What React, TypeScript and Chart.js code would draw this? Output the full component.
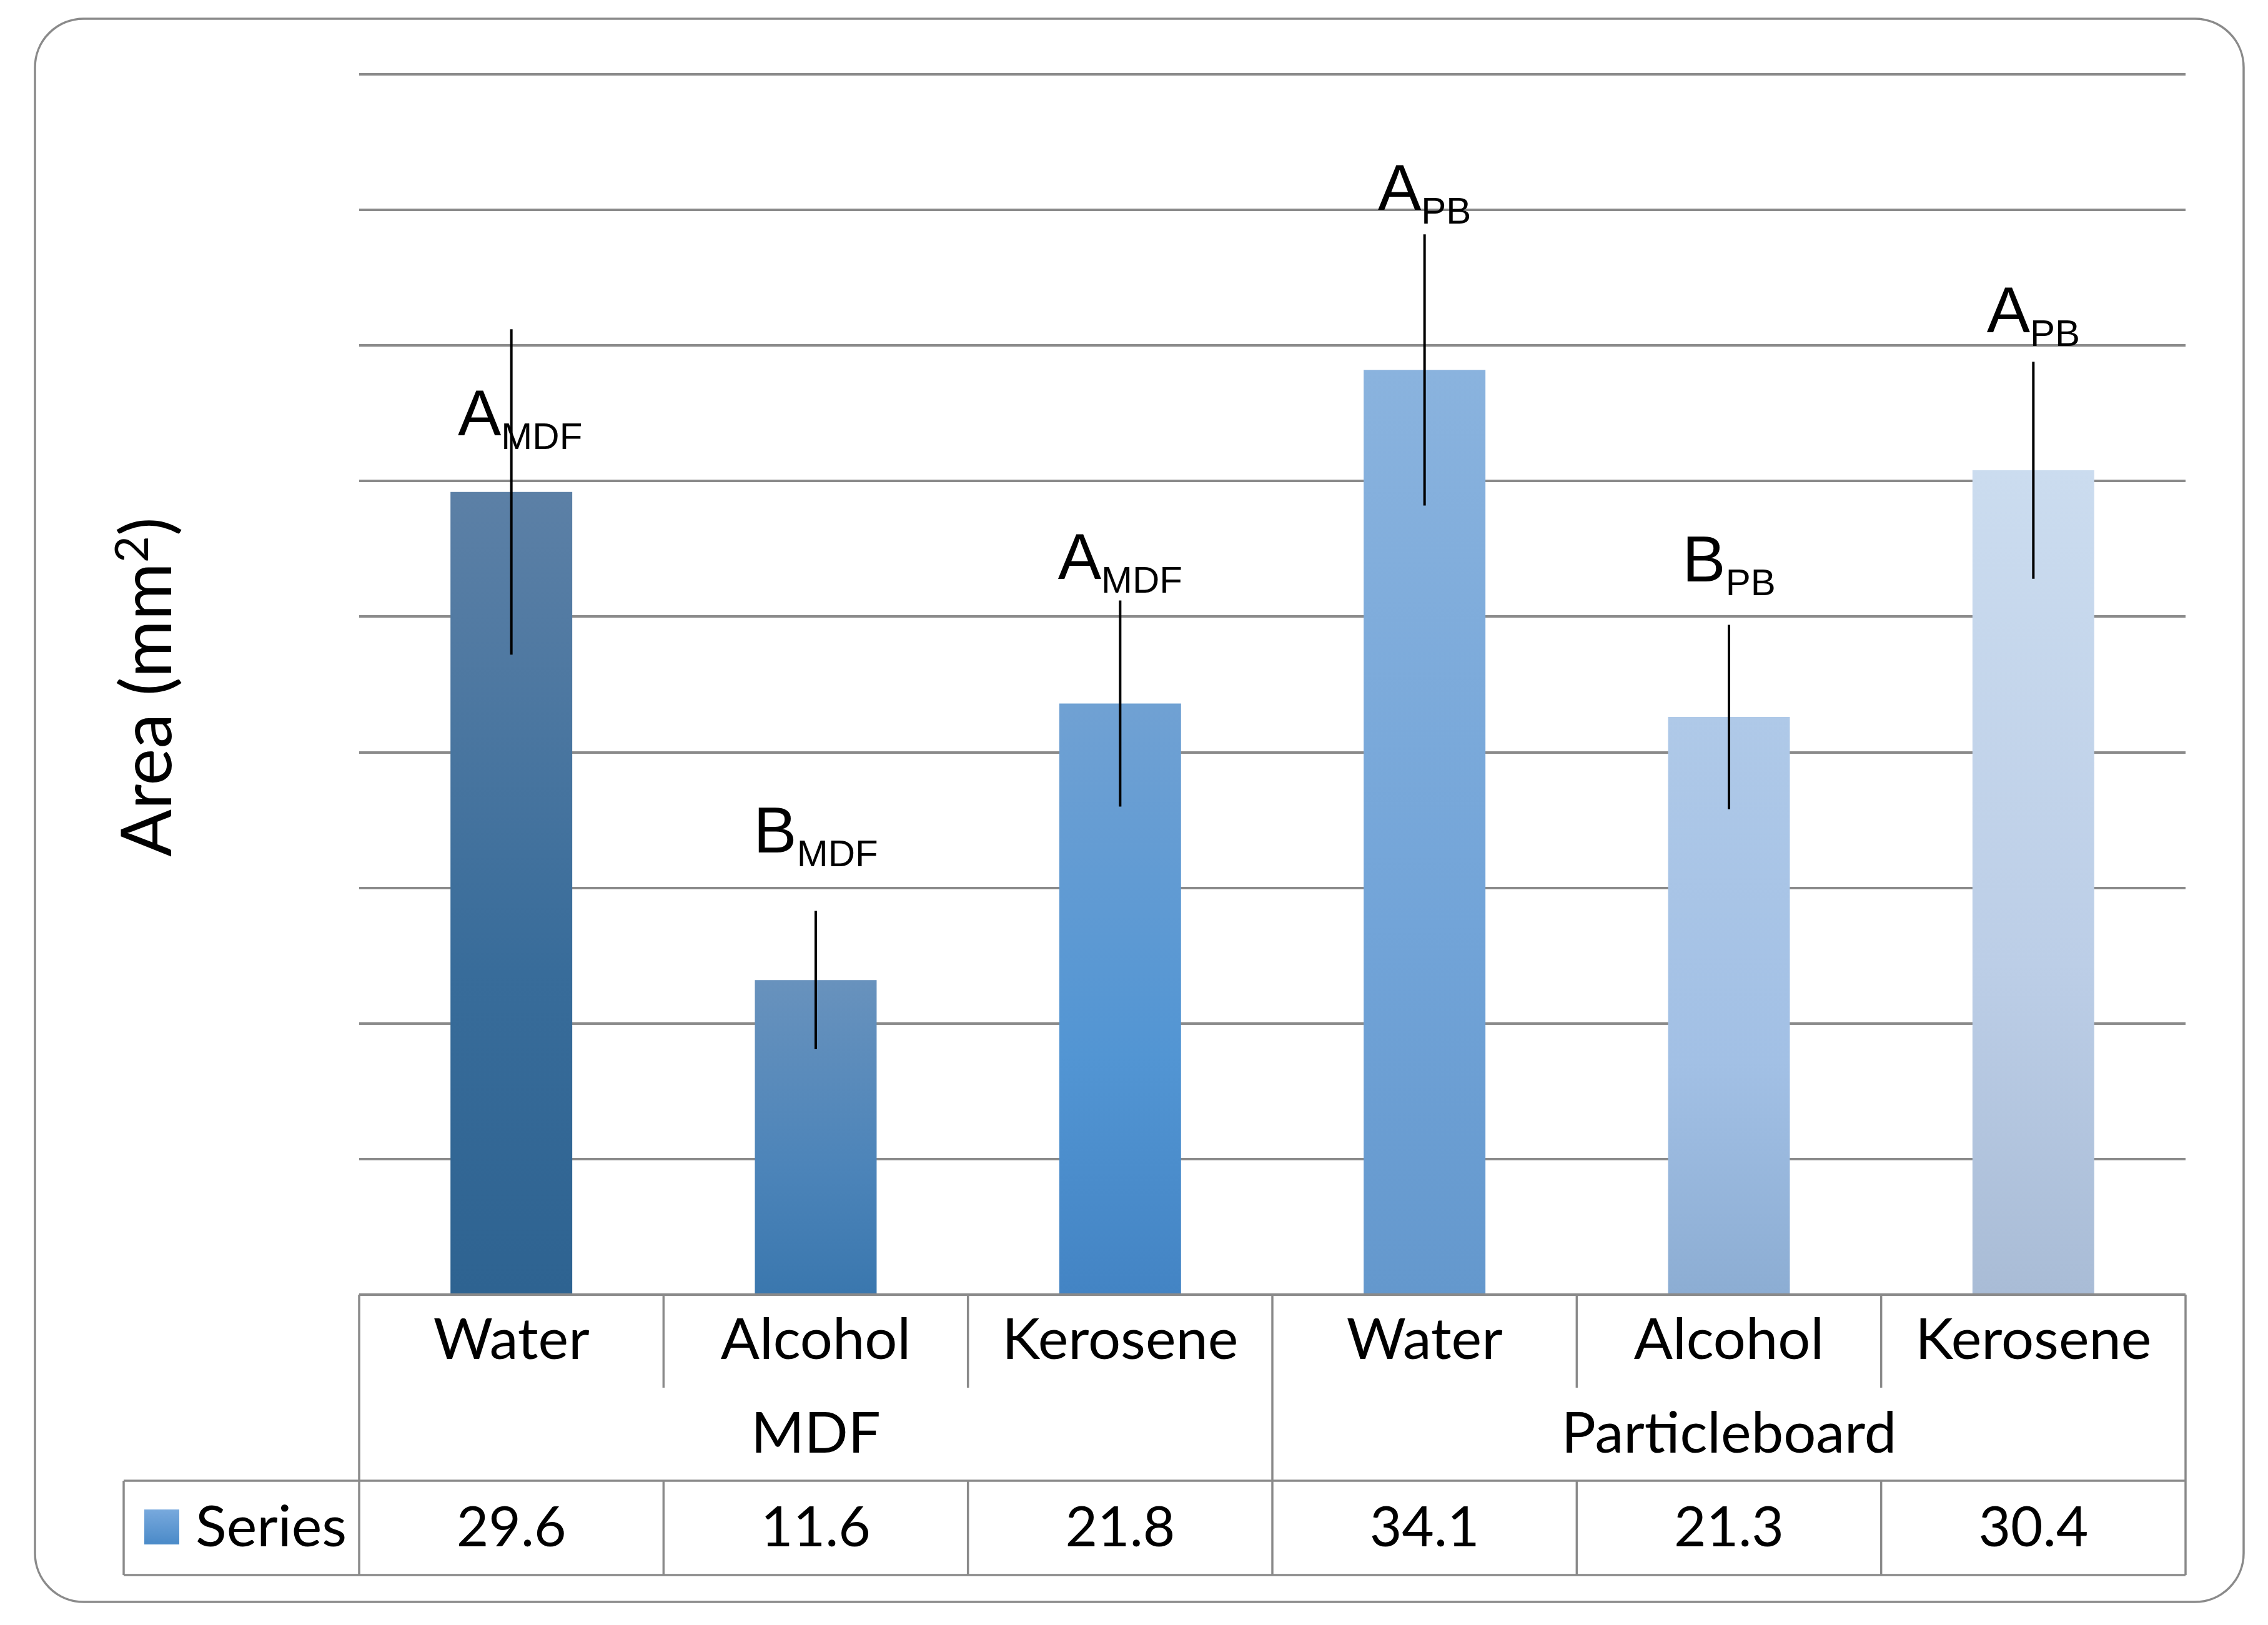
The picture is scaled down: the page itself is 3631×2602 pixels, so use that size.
import React, { useEffect, useRef } from "react";
import { Chart, registerables } from "chart.js";

Chart.register(...registerables);

// ---- data ----
const categories = ["Water", "Alcohol", "Kerosene", "Water", "Alcohol", "Kerosene"];
const groups = ["MDF", "Particleboard"];
const groupSizes = [3, 3];
const areaValues = [29.6, 11.6, 21.8, 34.1, 21.3, 30.4];
const errorValues = [6.0, 2.55, 3.8, 5.0, 3.4, 4.0];
const letterMain = ["A", "B", "A", "A", "B", "A"];
const letterSub = ["MDF", "MDF", "MDF", "PB", "PB", "PB"];
const letterLevel = [31.7, 16.3, 26.4, 40.0, 26.3, 35.5];
const seriesName = "Series";
const axisTitleMain = "Area (mm";
const axisTitleSup = "2";
const axisTitleEnd = ")";
const yMin = 0;
const yMax = 45;
const yStep = 5;

// ---- styles ----
const W = 3631;
const H = 2602;
const GRAY = "#8a8a8a";
const CAL = "Lato, 'Open Sans', sans-serif";
const ARIAL = "'Liberation Sans', Arial, sans-serif";
const PLOT_RIGHT = 3499;
const barStops: [string, string, string][] = [
  ["#5c80a6", "#386c9a", "#2e6391"],
  ["#6892bd", "#4c84b9", "#3a77ae"],
  ["#70a1d3", "#5295d3", "#4384c4"],
  ["#8ab3de", "#72a4d8", "#6498cd"],
  ["#afc9e8", "#a2c0e5", "#8cadd3"],
  ["#cbdcef", "#bccee7", "#a9bcd6"],
];

function roundRectPath(ctx: CanvasRenderingContext2D, x: number, y: number, w: number, h: number, r: number) {
  ctx.beginPath();
  ctx.moveTo(x + r, y);
  ctx.lineTo(x + w - r, y);
  ctx.arcTo(x + w, y, x + w, y + r, r);
  ctx.lineTo(x + w, y + h - r);
  ctx.arcTo(x + w, y + h, x + w - r, y + h, r);
  ctx.lineTo(x + r, y + h);
  ctx.arcTo(x, y + h, x, y + h - r, r);
  ctx.lineTo(x, y + r);
  ctx.arcTo(x, y, x + r, y, r);
  ctx.closePath();
}

function seg(ctx: CanvasRenderingContext2D, x1: number, y1: number, x2: number, y2: number) {
  ctx.beginPath();
  ctx.moveTo(x1, y1);
  ctx.lineTo(x2, y2);
  ctx.stroke();
}

const overlay = {
  id: "overlay",
  beforeDraw(chart: any) {
    const ctx = chart.ctx;
    ctx.save();
    ctx.fillStyle = "#ffffff";
    ctx.fillRect(0, 0, W, H);
    ctx.restore();
  },
  afterDraw(chart: any) {
    const ctx: CanvasRenderingContext2D = chart.ctx;
    const y = chart.scales.y;
    const area = chart.chartArea;
    const meta = chart.getDatasetMeta(0);
    const xs: number[] = meta.data.map((b: any) => b.x);
    ctx.save();

    // outer rounded frame
    ctx.strokeStyle = GRAY;
    ctx.lineWidth = 3.5;
    roundRectPath(ctx, 56, 30, 3536, 2535, 78);
    ctx.stroke();

    // error bars
    ctx.strokeStyle = "#000";
    ctx.lineWidth = 4;
    xs.forEach((x, i) => {
      const v = areaValues[i];
      const e = errorValues[i];
      seg(ctx, x, y.getPixelForValue(v + e), x, y.getPixelForValue(v - e));
    });

    // significance letters
    ctx.fillStyle = "#000";
    ctx.textBaseline = "alphabetic";
    ctx.textAlign = "left";
    xs.forEach((x, i) => {
      const mainFont = `104px ${ARIAL}`;
      const subFont = `60px ${ARIAL}`;
      ctx.font = mainFont;
      const wm = ctx.measureText(letterMain[i]).width;
      ctx.font = subFont;
      const ws = ctx.measureText(letterSub[i]).width;
      const start = x - (wm + ws) / 2 + (i === 0 ? 14 : 0);
      const base = y.getPixelForValue(letterLevel[i]);
      ctx.font = mainFont;
      ctx.fillText(letterMain[i], start, base);
      ctx.font = subFont;
      ctx.fillText(letterSub[i], start + wm, base + 22);
    });

    // data table
    const bounds: number[] = [area.left];
    for (let i = 0; i < xs.length - 1; i++) bounds.push((xs[i] + xs[i + 1]) / 2);
    bounds.push(area.right);
    const top = area.bottom;
    const r1 = top + 149;
    const r2 = top + 298;
    const r3 = top + 449;
    const legendLeft = 198;

    ctx.strokeStyle = GRAY;
    ctx.lineWidth = 3.5;
    seg(ctx, area.left, top, area.right, top);
    seg(ctx, legendLeft, r2, area.right, r2);
    seg(ctx, legendLeft, r3, area.right, r3);
    seg(ctx, legendLeft, r2, legendLeft, r3);
    let idx = 0;
    const groupEdges = [0];
    groupSizes.forEach((n) => {
      idx += n;
      groupEdges.push(idx);
    });
    for (let b = 0; b < bounds.length; b++) {
      if (groupEdges.includes(b)) {
        seg(ctx, bounds[b], top, bounds[b], r3);
      } else {
        seg(ctx, bounds[b], top, bounds[b], r1);
        seg(ctx, bounds[b], r2, bounds[b], r3);
      }
    }

    ctx.fillStyle = "#000";
    ctx.textAlign = "center";
    ctx.font = `92px ${CAL}`;
    categories.forEach((c, i) => ctx.fillText(c, xs[i], top + 103));
    let s = 0;
    groups.forEach((g, gi) => {
      const n = groupSizes[gi];
      const cx = (bounds[s] + bounds[s + n]) / 2;
      ctx.fillText(g, cx, top + 253);
      s += n;
    });
    ctx.font = `89px ${CAL}`;
    areaValues.forEach((v, i) => ctx.fillText(v.toFixed(1), xs[i], top + 403));

    // legend key
    const lg = ctx.createLinearGradient(0, 2417, 0, 2473);
    lg.addColorStop(0, "#78a9dd");
    lg.addColorStop(1, "#4a8ac8");
    ctx.fillStyle = lg;
    ctx.fillRect(231, 2417, 56, 56);
    ctx.fillStyle = "#000";
    ctx.textAlign = "left";
    ctx.font = `92px ${CAL}`;
    ctx.fillText(seriesName, 313, top + 403);

    // axis title (rotated)
    ctx.translate(274, 1100);
    ctx.rotate(-Math.PI / 2);
    const tf = `112px ${CAL}`;
    const sf = `74px ${CAL}`;
    ctx.font = tf;
    const w1 = ctx.measureText(axisTitleMain).width;
    const w3 = ctx.measureText(axisTitleEnd).width;
    ctx.font = sf;
    const w2 = ctx.measureText(axisTitleSup).width;
    let tx = -(w1 + w2 + w3) / 2;
    ctx.font = tf;
    ctx.fillText(axisTitleMain, tx, 0);
    tx += w1;
    ctx.font = sf;
    ctx.fillText(axisTitleSup, tx, -37);
    tx += w2;
    ctx.font = tf;
    ctx.fillText(axisTitleEnd, tx, 0);

    ctx.restore();
  },
};

export default function App() {
  const ref = useRef<HTMLCanvasElement | null>(null);
  useEffect(() => {
    if (!ref.current) return;
    const chart = new Chart(ref.current, {
      type: "bar",
      data: {
        labels: categories,
        datasets: [
          {
            label: seriesName,
            data: areaValues,
            borderWidth: 0,
            barPercentage: 0.4,
            categoryPercentage: 1,
            backgroundColor: (c: any) => {
              const chart = c.chart;
              const i = c.dataIndex ?? 0;
              const stops = barStops[i] || barStops[0];
              if (!chart.chartArea || !chart.scales.y) return stops[1];
              const ys = chart.scales.y;
              const t = ys.getPixelForValue(areaValues[i]);
              const b = ys.getPixelForValue(0);
              const g = chart.ctx.createLinearGradient(0, t, 0, b);
              g.addColorStop(0, stops[0]);
              g.addColorStop(0.6, stops[1]);
              g.addColorStop(1, stops[2]);
              return g;
            },
          },
        ],
      },
      options: {
        animation: false,
        responsive: false,
        devicePixelRatio: 1,
        layout: { padding: { left: 575, right: W - PLOT_RIGHT, top: 119, bottom: H - 2073 } },
        plugins: { legend: { display: false }, tooltip: { enabled: false } },
        scales: {
          x: { display: false },
          y: {
            display: true,
            min: yMin,
            max: yMax,
            ticks: { display: false, stepSize: yStep },
            grid: { color: GRAY, lineWidth: 4, drawTicks: false },
            border: { display: false },
          },
        },
      },
      plugins: [overlay],
    });
    return () => chart.destroy();
  }, []);
  return (
    <div style={{ position: "fixed", left: 0, top: 0, width: W, height: H, background: "#fff" }}>
      <canvas ref={ref} width={W} height={H} style={{ width: W, height: H, display: "block" }} />
    </div>
  );
}
